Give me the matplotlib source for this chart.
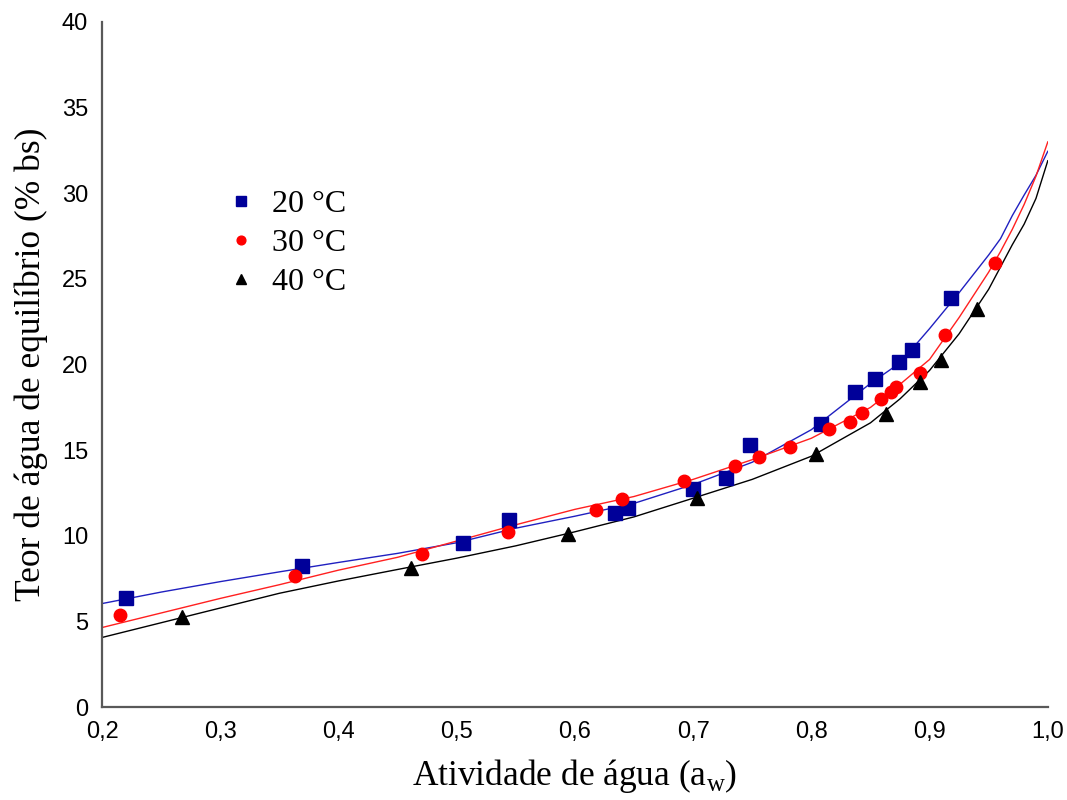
import matplotlib
matplotlib.use("Agg")
import matplotlib.pyplot as plt

plt.rcParams['mathtext.fontset'] = 'custom'
plt.rcParams['mathtext.rm'] = 'Liberation Serif'

# experimental points
aw_20 = [0.220, 0.369, 0.505, 0.544, 0.634, 0.645, 0.700, 0.728, 0.748, 0.808,
         0.837, 0.854, 0.874, 0.885, 0.918]
x_20 = [6.37, 8.23, 9.58, 10.92, 11.33, 11.62, 12.73, 13.37, 15.30, 16.53,
        18.39, 19.15, 20.15, 20.85, 23.88]

aw_30 = [0.215, 0.363, 0.471, 0.543, 0.618, 0.640, 0.692, 0.735, 0.756, 0.782,
         0.815, 0.833, 0.843, 0.859, 0.867, 0.872, 0.892, 0.913, 0.955]
x_30 = [5.37, 7.63, 8.97, 10.24, 11.50, 12.15, 13.20, 14.09, 14.58, 15.20,
        16.22, 16.66, 17.19, 17.97, 18.41, 18.70, 19.49, 21.72, 25.91]

aw_40 = [0.268, 0.461, 0.594, 0.703, 0.804, 0.863, 0.892, 0.910, 0.940]
x_40 = [5.27, 8.10, 10.10, 12.19, 14.81, 17.11, 19.00, 20.26, 23.24]

# fitted curves
aw_fit = [0.2, 0.25, 0.3, 0.35, 0.4, 0.45, 0.5, 0.55, 0.6, 0.65, 0.7, 0.75,
          0.8, 0.85, 0.875, 0.9, 0.925, 0.95, 0.96, 0.97, 0.98, 0.99, 1.0]
fit_20 = [6.05, 6.72, 7.33, 7.9, 8.45, 8.98, 9.6, 10.45, 11.15, 11.9, 13.0, 14.3,
          16.2, 18.9, 20.1, 22.1, 24.2, 26.4, 27.35, 28.7, 29.9, 31.05, 32.45]
fit_30 = [4.65, 5.5, 6.35, 7.15, 8.0, 8.75, 9.7, 10.65, 11.55, 12.3, 13.3, 14.45,
          15.7, 17.5, 18.85, 20.3, 22.75, 25.4, 26.6, 27.9, 29.35, 31.0, 33.0]
fit_40 = [4.07, 4.93, 5.79, 6.65, 7.37, 8.04, 8.7, 9.42, 10.24, 11.11, 12.2, 13.3,
          14.65, 16.6, 18.0, 19.66, 21.8, 24.4, 25.7, 27.0, 28.2, 29.7, 31.9]

labels = ['20 °C', '30 °C', '40 °C']
colors = ['#000099', '#ff0000', '#000000']

fig = plt.figure(figsize=(10.67, 8), dpi=100)
ax = fig.add_axes([0.0956, 0.116, 0.8864, 0.8565])

ax.plot(aw_fit, fit_20, color='#2020c0', lw=1.0)
ax.plot(aw_fit, fit_30, color='#ff2020', lw=1.0)
ax.plot(aw_fit, fit_40, color='#000000', lw=1.0)

ax.plot(aw_20, x_20, 's', color=colors[0], ms=10, label=labels[0])
ax.plot(aw_30, x_30, 'o', color=colors[1], ms=9, label=labels[1])
ax.plot(aw_40, x_40, '^', color=colors[2], ms=10, label=labels[2])

ax.set_xlim(0.2, 1.0)
ax.set_ylim(0, 40)
ax.set_xticks([0.2, 0.3, 0.4, 0.5, 0.6, 0.7, 0.8, 0.9, 1.0])
ax.set_xticklabels(['0,2', '0,3', '0,4', '0,5', '0,6', '0,7', '0,8', '0,9', '1,0'])
ax.set_yticks(range(0, 41, 5))
for lab in ax.get_xticklabels() + ax.get_yticklabels():
    lab.set_family(['Liberation Sans Narrow', 'Liberation Sans'])
    lab.set_fontsize(17)
ax.tick_params(length=0, pad=10)

for s in ['top', 'right']:
    ax.spines[s].set_visible(False)
for s in ['left', 'bottom']:
    ax.spines[s].set_color('#595959')
    ax.spines[s].set_linewidth(1.6)

ax.set_xlabel('Atividade de água (a$_{\\rm w}$)', family='Liberation Serif', fontsize=25.5, labelpad=10)
ax.set_ylabel('Teor de água de equilíbrio (% bs)', family='Liberation Serif', fontsize=25.5, labelpad=10)

ax.legend(loc='upper left', bbox_to_anchor=(0.1, 0.797), frameon=False,
          prop={'family': 'Liberation Serif', 'size': 23}, markerscale=0.7,
          handlelength=1.0, handletextpad=0.45, labelspacing=0.3)

fig.savefig('out.png', dpi=100)
